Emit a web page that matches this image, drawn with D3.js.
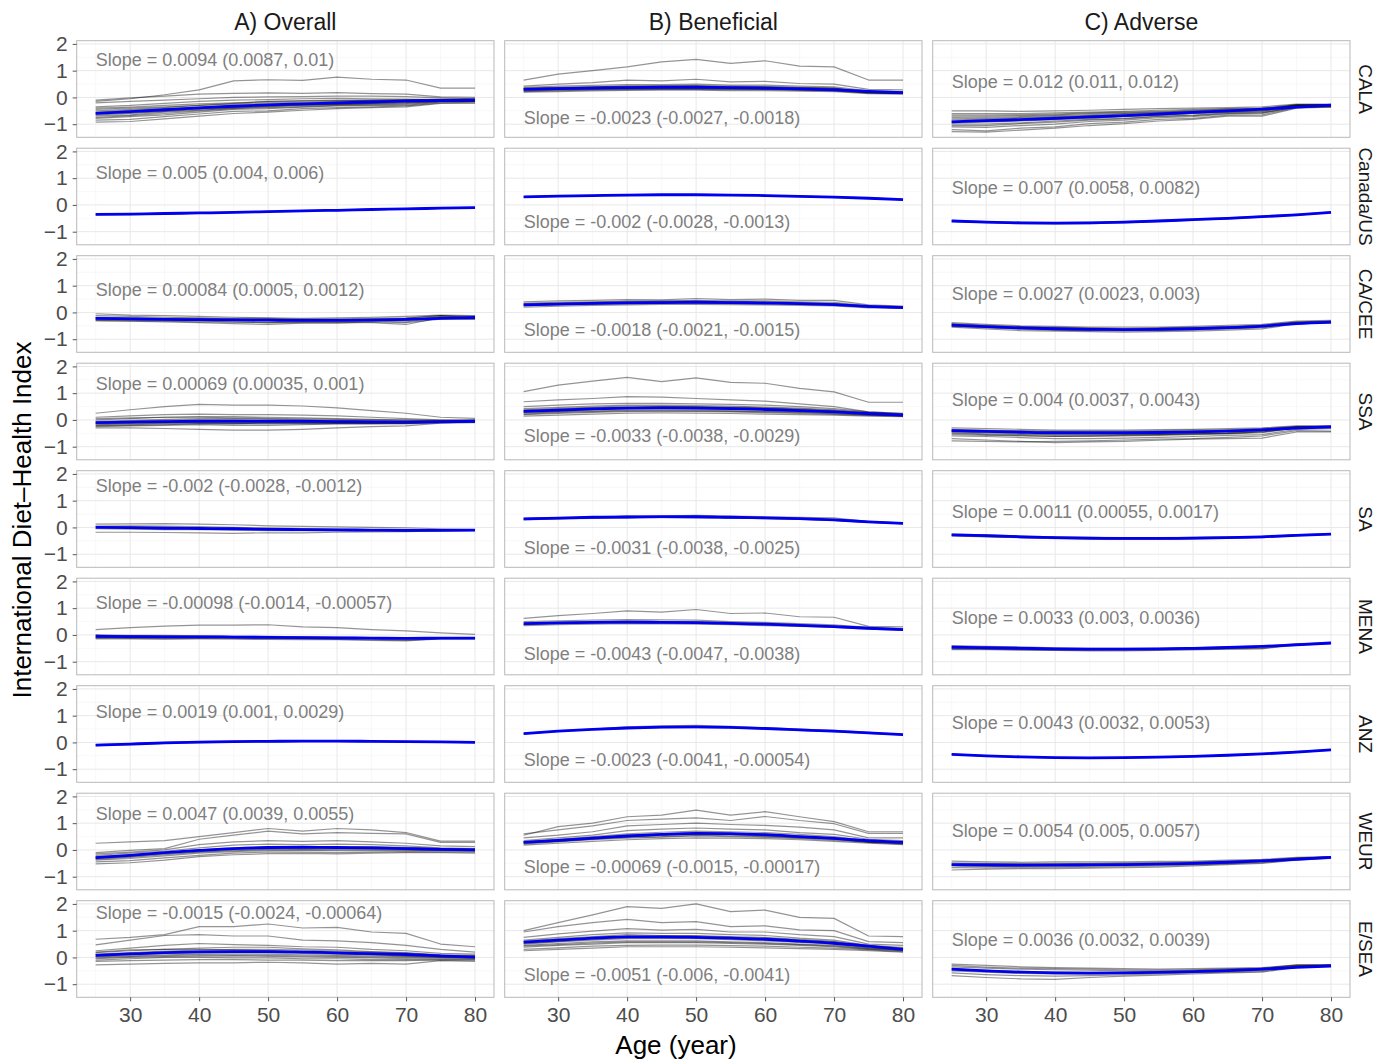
<!DOCTYPE html>
<html>
<head>
<meta charset="utf-8">
<script src="https://cdn.jsdelivr.net/npm/d3@7"></script>
<style>
  body { margin: 0; background: #fff; }
  text { font-family: "Liberation Sans", Arial, Helvetica, sans-serif; }
</style>
</head>
<body>
<svg id="chart" width="1387" height="1059"></svg>
<script>
// ---- data ---------------------------------------------------------------
const ages = [25, 30, 35, 40, 45, 50, 55, 60, 65, 70, 75, 80];
const regions = ["CALA", "Canada/US", "CA/CEE", "SSA", "SA", "MENA", "ANZ", "WEUR", "E/SEA"];
const components = ["A) Overall", "B) Beneficial", "C) Adverse"];

// Regional smoothed trend (blue), one row per region
const fitOverall = [
  [-0.60,-0.53,-0.46,-0.39,-0.33,-0.28,-0.24,-0.20,-0.17,-0.14,-0.12,-0.10],
  [-0.35,-0.34,-0.32,-0.30,-0.28,-0.25,-0.22,-0.20,-0.17,-0.15,-0.12,-0.10],
  [-0.22,-0.24,-0.26,-0.27,-0.28,-0.29,-0.30,-0.30,-0.29,-0.26,-0.22,-0.19],
  [-0.10,-0.08,-0.06,-0.05,-0.05,-0.05,-0.05,-0.06,-0.07,-0.08,-0.07,-0.05],
  [0.00,-0.01,-0.03,-0.04,-0.05,-0.07,-0.08,-0.09,-0.10,-0.11,-0.11,-0.10],
  [-0.05,-0.06,-0.07,-0.07,-0.08,-0.09,-0.10,-0.11,-0.12,-0.13,-0.12,-0.12],
  [-0.10,-0.06,-0.02,0.01,0.03,0.04,0.05,0.05,0.04,0.03,0.02,0.00],
  [-0.29,-0.20,-0.10,-0.02,0.05,0.09,0.10,0.09,0.08,0.05,0.02,0.00],
  [0.08,0.13,0.18,0.21,0.22,0.22,0.20,0.17,0.14,0.11,0.06,0.01]
];
const fitBeneficial = [
  [0.30,0.33,0.35,0.37,0.38,0.38,0.37,0.35,0.32,0.28,0.23,0.18],
  [0.30,0.33,0.35,0.37,0.38,0.38,0.37,0.35,0.32,0.29,0.25,0.20],
  [0.28,0.31,0.34,0.36,0.37,0.38,0.37,0.35,0.33,0.29,0.23,0.18],
  [0.32,0.37,0.41,0.44,0.45,0.44,0.42,0.39,0.35,0.30,0.24,0.18],
  [0.32,0.35,0.38,0.39,0.40,0.40,0.38,0.36,0.33,0.28,0.21,0.15],
  [0.42,0.45,0.47,0.48,0.47,0.46,0.43,0.40,0.36,0.31,0.25,0.20],
  [0.33,0.42,0.49,0.54,0.57,0.58,0.56,0.52,0.47,0.42,0.36,0.29],
  [0.28,0.36,0.44,0.52,0.58,0.62,0.61,0.57,0.50,0.43,0.35,0.28],
  [0.57,0.65,0.72,0.77,0.77,0.75,0.72,0.68,0.61,0.53,0.42,0.30]
];
const fitAdverse = [
  [-0.91,-0.87,-0.83,-0.78,-0.73,-0.68,-0.62,-0.56,-0.50,-0.44,-0.36,-0.29],
  [-0.60,-0.64,-0.67,-0.68,-0.67,-0.64,-0.60,-0.55,-0.50,-0.44,-0.37,-0.28],
  [-0.47,-0.53,-0.58,-0.61,-0.63,-0.64,-0.63,-0.61,-0.57,-0.51,-0.42,-0.36],
  [-0.40,-0.43,-0.46,-0.48,-0.48,-0.48,-0.47,-0.45,-0.42,-0.37,-0.31,-0.26],
  [-0.28,-0.31,-0.35,-0.38,-0.40,-0.41,-0.41,-0.40,-0.38,-0.35,-0.30,-0.25],
  [-0.46,-0.48,-0.50,-0.52,-0.53,-0.53,-0.52,-0.50,-0.47,-0.43,-0.37,-0.30],
  [-0.45,-0.50,-0.54,-0.57,-0.58,-0.57,-0.55,-0.52,-0.48,-0.43,-0.36,-0.28],
  [-0.55,-0.56,-0.57,-0.57,-0.56,-0.55,-0.53,-0.50,-0.46,-0.41,-0.35,-0.28],
  [-0.44,-0.50,-0.55,-0.58,-0.59,-0.58,-0.56,-0.53,-0.49,-0.44,-0.37,-0.32]
];

// Country-level trajectories (grey), grouped by region
const countriesOverall = [
  [ // CALA
    [-0.15,-0.05,0.10,0.28,0.62,0.66,0.64,0.76,0.68,0.65,0.35,0.35],
    [-0.10,-0.02,0.05,0.12,0.15,0.17,0.15,0.18,0.14,0.12,0.02,0.00],
    [-0.20,-0.15,-0.10,-0.05,0.00,0.02,0.03,0.05,0.05,0.03,-0.02,-0.05],
    [-0.35,-0.30,-0.22,-0.15,-0.10,-0.08,-0.05,-0.03,-0.05,-0.06,-0.08,-0.08],
    [-0.45,-0.40,-0.35,-0.30,-0.22,-0.15,-0.12,-0.10,-0.10,-0.10,-0.10,-0.10],
    [-0.55,-0.48,-0.42,-0.36,-0.30,-0.25,-0.22,-0.18,-0.16,-0.15,-0.12,-0.12],
    [-0.62,-0.58,-0.50,-0.42,-0.35,-0.32,-0.28,-0.25,-0.22,-0.18,-0.14,-0.12],
    [-0.70,-0.65,-0.55,-0.48,-0.40,-0.35,-0.30,-0.28,-0.25,-0.22,-0.15,-0.14],
    [-0.78,-0.72,-0.65,-0.55,-0.45,-0.42,-0.36,-0.32,-0.30,-0.30,-0.17,-0.16],
    [-0.85,-0.82,-0.72,-0.62,-0.52,-0.50,-0.42,-0.38,-0.35,-0.32,-0.20,-0.18],
    [-0.92,-0.90,-0.80,-0.70,-0.60,-0.55,-0.48,-0.42,-0.38,-0.35,-0.22,-0.22],
    [-0.50,-0.45,-0.38,-0.30,-0.25,-0.20,-0.18,-0.15,-0.12,-0.10,-0.06,-0.05],
    [-0.58,-0.52,-0.45,-0.38,-0.32,-0.28,-0.25,-0.22,-0.19,-0.16,-0.10,-0.09],
    [-0.66,-0.60,-0.52,-0.45,-0.38,-0.33,-0.28,-0.26,-0.22,-0.20,-0.13,-0.13],
    [-0.40,-0.36,-0.30,-0.24,-0.20,-0.16,-0.14,-0.12,-0.10,-0.09,-0.08,-0.07],
    [-0.75,-0.68,-0.60,-0.50,-0.42,-0.38,-0.34,-0.30,-0.28,-0.26,-0.16,-0.15]
  ],
  [ // Canada/US
    [-0.33,-0.33,-0.31,-0.29,-0.27,-0.24,-0.21,-0.19,-0.16,-0.14,-0.11,-0.09],
    [-0.37,-0.36,-0.34,-0.31,-0.29,-0.26,-0.23,-0.21,-0.18,-0.16,-0.13,-0.11]
  ],
  [ // CA/CEE
    [-0.05,-0.10,-0.12,-0.15,-0.18,-0.20,-0.22,-0.20,-0.18,-0.15,-0.10,-0.12],
    [-0.12,-0.15,-0.18,-0.20,-0.22,-0.22,-0.25,-0.24,-0.22,-0.20,-0.12,-0.15],
    [-0.20,-0.22,-0.25,-0.25,-0.28,-0.30,-0.30,-0.28,-0.28,-0.30,-0.15,-0.18],
    [-0.28,-0.30,-0.30,-0.32,-0.35,-0.38,-0.35,-0.35,-0.32,-0.35,-0.18,-0.20],
    [-0.32,-0.33,-0.35,-0.38,-0.42,-0.45,-0.40,-0.38,-0.38,-0.45,-0.20,-0.22],
    [-0.25,-0.25,-0.28,-0.30,-0.30,-0.32,-0.33,-0.32,-0.30,-0.28,-0.22,-0.25],
    [-0.18,-0.20,-0.22,-0.22,-0.25,-0.25,-0.28,-0.28,-0.25,-0.22,-0.12,-0.20],
    [-0.30,-0.32,-0.33,-0.35,-0.36,-0.38,-0.38,-0.40,-0.35,-0.38,-0.25,-0.25],
    [-0.22,-0.24,-0.26,-0.28,-0.29,-0.30,-0.31,-0.31,-0.30,-0.27,-0.20,-0.19]
  ],
  [ // SSA
    [0.25,0.38,0.50,0.58,0.55,0.55,0.52,0.45,0.35,0.25,0.10,0.06],
    [0.10,0.15,0.20,0.22,0.20,0.20,0.18,0.15,0.10,0.05,0.00,0.00],
    [0.00,0.05,0.10,0.12,0.12,0.10,0.08,0.05,0.02,0.00,-0.02,-0.02],
    [-0.05,-0.02,0.02,0.05,0.05,0.03,0.00,-0.02,-0.03,-0.05,-0.03,-0.03],
    [-0.12,-0.10,-0.08,-0.05,-0.05,-0.05,-0.06,-0.08,-0.08,-0.10,-0.06,-0.05],
    [-0.18,-0.15,-0.12,-0.10,-0.12,-0.12,-0.12,-0.12,-0.12,-0.13,-0.08,-0.06],
    [-0.25,-0.22,-0.20,-0.18,-0.20,-0.20,-0.18,-0.15,-0.15,-0.15,-0.10,-0.08],
    [-0.30,-0.30,-0.32,-0.35,-0.38,-0.38,-0.35,-0.30,-0.25,-0.22,-0.12,-0.10],
    [-0.20,-0.18,-0.15,-0.15,-0.15,-0.10,-0.12,-0.10,-0.12,-0.10,-0.08,-0.04],
    [-0.08,-0.05,-0.02,0.00,0.00,-0.02,-0.03,-0.05,-0.05,-0.06,-0.05,-0.04],
    [-0.15,-0.12,-0.10,-0.08,-0.08,-0.08,-0.09,-0.10,-0.10,-0.11,-0.07,-0.05],
    [0.05,0.08,0.10,0.10,0.08,0.06,0.04,0.02,0.00,-0.02,-0.03,-0.02],
    [-0.22,-0.20,-0.18,-0.14,-0.14,-0.15,-0.15,-0.14,-0.14,-0.12,-0.09,-0.06]
  ],
  [ // SA
    [0.12,0.13,0.14,0.12,0.10,0.06,0.04,0.02,0.00,-0.02,-0.05,-0.08],
    [-0.18,-0.18,-0.19,-0.20,-0.22,-0.20,-0.20,-0.18,-0.17,-0.16,-0.13,-0.12],
    [0.03,0.02,0.00,-0.02,-0.03,-0.05,-0.06,-0.08,-0.10,-0.12,-0.10,-0.09],
    [-0.05,-0.06,-0.08,-0.08,-0.10,-0.12,-0.12,-0.13,-0.14,-0.15,-0.12,-0.11],
    [0.05,0.06,0.05,0.03,0.00,-0.02,-0.04,-0.06,-0.08,-0.10,-0.09,-0.10]
  ],
  [ // MENA
    [0.20,0.27,0.33,0.37,0.37,0.38,0.30,0.27,0.20,0.15,0.08,0.02],
    [0.00,-0.02,-0.02,-0.03,-0.05,-0.05,-0.07,-0.08,-0.10,-0.10,-0.10,-0.10],
    [-0.08,-0.10,-0.10,-0.10,-0.10,-0.12,-0.13,-0.14,-0.15,-0.16,-0.13,-0.13],
    [-0.12,-0.13,-0.14,-0.13,-0.13,-0.14,-0.16,-0.17,-0.18,-0.20,-0.14,-0.14],
    [-0.15,-0.15,-0.16,-0.15,-0.16,-0.17,-0.18,-0.18,-0.20,-0.22,-0.15,-0.15],
    [-0.02,-0.03,-0.04,-0.05,-0.06,-0.08,-0.08,-0.10,-0.11,-0.12,-0.11,-0.11],
    [-0.10,-0.08,-0.08,-0.08,-0.09,-0.10,-0.11,-0.12,-0.13,-0.15,-0.12,-0.12]
  ],
  [ // ANZ
    [-0.08,-0.04,0.00,0.03,0.05,0.06,0.06,0.06,0.05,0.04,0.03,0.01],
    [-0.12,-0.08,-0.04,-0.01,0.01,0.02,0.04,0.04,0.03,0.02,0.01,-0.01]
  ],
  [ // WEUR
    [0.25,0.30,0.35,0.50,0.65,0.80,0.70,0.80,0.75,0.65,0.33,0.33],
    [-0.10,-0.02,0.05,0.40,0.55,0.70,0.60,0.65,0.62,0.60,0.28,0.28],
    [-0.15,-0.08,0.00,0.20,0.30,0.35,0.32,0.35,0.30,0.25,0.15,0.12],
    [-0.20,-0.12,-0.05,0.08,0.18,0.22,0.20,0.22,0.20,0.15,0.08,0.05],
    [-0.25,-0.18,-0.10,0.00,0.08,0.12,0.12,0.12,0.10,0.08,0.04,0.02],
    [-0.32,-0.25,-0.15,-0.06,0.00,0.03,0.05,0.04,0.03,0.02,0.00,-0.02],
    [-0.38,-0.32,-0.22,-0.12,-0.06,-0.03,-0.02,-0.03,-0.03,-0.03,-0.04,-0.05],
    [-0.45,-0.40,-0.30,-0.20,-0.12,-0.08,-0.08,-0.10,-0.08,-0.06,-0.07,-0.08],
    [-0.52,-0.48,-0.38,-0.25,-0.18,-0.14,-0.13,-0.15,-0.12,-0.10,-0.10,-0.12],
    [-0.30,-0.22,-0.12,-0.02,0.05,0.10,0.10,0.10,0.12,0.10,0.05,0.03],
    [-0.28,-0.20,-0.10,-0.02,0.04,0.08,0.08,0.08,0.07,0.05,0.02,0.01],
    [-0.35,-0.28,-0.18,-0.08,-0.03,0.00,0.01,0.00,0.00,-0.01,-0.02,-0.03]
  ],
  [ // E/SEA
    [0.68,0.75,0.85,1.15,1.15,1.25,1.10,1.12,0.95,0.90,0.50,0.40],
    [0.47,0.65,0.82,0.85,0.80,0.80,0.65,0.62,0.55,0.45,0.30,0.20],
    [0.25,0.35,0.45,0.52,0.48,0.45,0.40,0.38,0.30,0.25,0.15,0.12],
    [0.18,0.25,0.30,0.35,0.38,0.38,0.32,0.28,0.22,0.18,0.10,0.08],
    [0.10,0.15,0.20,0.22,0.25,0.25,0.22,0.20,0.15,0.12,0.05,0.04],
    [0.02,0.06,0.10,0.12,0.12,0.12,0.10,0.08,0.06,0.03,0.00,-0.02],
    [-0.05,0.00,0.03,0.05,0.05,0.04,0.02,0.00,-0.02,-0.05,-0.05,-0.05],
    [-0.15,-0.12,-0.10,-0.08,-0.08,-0.10,-0.10,-0.12,-0.12,-0.12,-0.08,-0.08],
    [-0.28,-0.25,-0.22,-0.20,-0.20,-0.18,-0.20,-0.25,-0.22,-0.25,-0.12,-0.15],
    [0.20,0.28,0.30,0.30,0.28,0.25,0.20,0.15,0.10,0.05,0.02,0.00],
    [-0.10,-0.05,0.00,0.00,-0.02,-0.02,-0.05,-0.05,-0.08,-0.08,-0.10,-0.10],
    [0.05,0.10,0.15,0.18,0.18,0.18,0.15,0.12,0.10,0.08,0.03,0.02],
    [0.12,0.18,0.24,0.27,0.30,0.30,0.27,0.24,0.20,0.16,0.08,0.05],
    [-0.02,0.03,0.07,0.09,0.08,0.08,0.06,0.04,0.02,-0.01,-0.02,-0.03]
  ]
];

const countriesBeneficial = [
  [ // CALA
    [0.65,0.87,1.00,1.14,1.33,1.42,1.27,1.37,1.17,1.14,0.65,0.65],
    [0.42,0.50,0.55,0.65,0.62,0.68,0.58,0.60,0.52,0.50,0.30,0.28],
    [0.38,0.42,0.45,0.48,0.48,0.50,0.46,0.46,0.42,0.40,0.25,0.22],
    [0.34,0.37,0.40,0.42,0.42,0.43,0.40,0.40,0.37,0.35,0.22,0.20],
    [0.30,0.33,0.35,0.37,0.38,0.38,0.36,0.35,0.33,0.31,0.20,0.18],
    [0.26,0.29,0.31,0.33,0.33,0.34,0.32,0.31,0.29,0.27,0.18,0.16],
    [0.22,0.25,0.27,0.29,0.30,0.30,0.28,0.28,0.26,0.24,0.16,0.14],
    [0.20,0.22,0.24,0.26,0.27,0.27,0.25,0.25,0.23,0.22,0.14,0.12],
    [0.32,0.35,0.38,0.40,0.40,0.40,0.38,0.37,0.35,0.33,0.19,0.17],
    [0.28,0.31,0.33,0.35,0.36,0.36,0.34,0.33,0.31,0.29,0.19,0.16],
    [0.35,0.38,0.40,0.42,0.43,0.44,0.42,0.41,0.38,0.36,0.21,0.19],
    [0.24,0.27,0.29,0.31,0.32,0.32,0.30,0.30,0.28,0.26,0.17,0.15]
  ],
  [ // Canada/US
    [0.31,0.34,0.36,0.38,0.39,0.39,0.38,0.36,0.33,0.30,0.26,0.21],
    [0.29,0.32,0.34,0.36,0.37,0.37,0.36,0.34,0.31,0.28,0.24,0.19]
  ],
  [ // CA/CEE
    [0.40,0.43,0.45,0.48,0.47,0.52,0.48,0.50,0.45,0.45,0.28,0.24],
    [0.35,0.38,0.40,0.42,0.43,0.45,0.43,0.43,0.40,0.38,0.25,0.22],
    [0.30,0.33,0.36,0.38,0.39,0.40,0.39,0.38,0.35,0.33,0.23,0.20],
    [0.25,0.28,0.30,0.33,0.34,0.35,0.34,0.33,0.30,0.28,0.20,0.17],
    [0.20,0.23,0.26,0.28,0.30,0.30,0.29,0.28,0.26,0.24,0.17,0.15],
    [0.27,0.30,0.33,0.35,0.36,0.37,0.36,0.34,0.32,0.30,0.20,0.18],
    [0.32,0.35,0.38,0.40,0.41,0.42,0.40,0.40,0.36,0.34,0.22,0.20]
  ],
  [ // SSA
    [1.06,1.30,1.45,1.59,1.43,1.57,1.40,1.37,1.18,1.05,0.66,0.66],
    [0.68,0.75,0.80,0.87,0.85,0.80,0.75,0.70,0.60,0.50,0.30,0.25],
    [0.50,0.55,0.60,0.62,0.62,0.60,0.58,0.55,0.50,0.42,0.30,0.24],
    [0.42,0.47,0.52,0.55,0.55,0.54,0.52,0.48,0.44,0.38,0.27,0.22],
    [0.36,0.40,0.45,0.48,0.49,0.48,0.46,0.43,0.39,0.33,0.25,0.20],
    [0.30,0.35,0.39,0.42,0.43,0.42,0.40,0.37,0.33,0.29,0.22,0.18],
    [0.25,0.30,0.34,0.37,0.38,0.37,0.35,0.32,0.29,0.25,0.20,0.16],
    [0.20,0.24,0.28,0.31,0.32,0.31,0.30,0.27,0.24,0.21,0.17,0.14],
    [0.14,0.18,0.22,0.25,0.26,0.25,0.24,0.22,0.20,0.18,0.14,0.12],
    [0.28,0.32,0.38,0.45,0.50,0.48,0.45,0.42,0.38,0.32,0.22,0.17],
    [0.33,0.38,0.42,0.45,0.46,0.45,0.43,0.40,0.36,0.31,0.23,0.19],
    [0.22,0.27,0.31,0.34,0.35,0.34,0.32,0.30,0.27,0.23,0.18,0.15],
    [0.38,0.43,0.48,0.52,0.52,0.50,0.49,0.45,0.41,0.36,0.26,0.21]
  ],
  [ // SA
    [0.34,0.37,0.40,0.43,0.42,0.45,0.42,0.40,0.38,0.36,0.22,0.17],
    [0.30,0.33,0.36,0.37,0.38,0.38,0.36,0.34,0.31,0.26,0.20,0.14],
    [0.28,0.32,0.34,0.36,0.37,0.36,0.35,0.33,0.30,0.26,0.19,0.14],
    [0.33,0.36,0.38,0.40,0.40,0.41,0.39,0.37,0.34,0.30,0.22,0.16]
  ],
  [ // MENA
    [0.62,0.72,0.80,0.90,0.85,0.95,0.80,0.82,0.68,0.66,0.32,0.30],
    [0.50,0.53,0.55,0.57,0.56,0.55,0.50,0.47,0.42,0.38,0.28,0.24],
    [0.45,0.48,0.50,0.52,0.50,0.50,0.46,0.43,0.39,0.34,0.26,0.21],
    [0.38,0.42,0.44,0.45,0.45,0.44,0.41,0.38,0.34,0.30,0.24,0.19],
    [0.35,0.38,0.40,0.42,0.41,0.40,0.38,0.35,0.32,0.28,0.22,0.18],
    [0.40,0.44,0.46,0.50,0.48,0.47,0.42,0.41,0.36,0.32,0.25,0.20]
  ],
  [ // ANZ
    [0.34,0.43,0.50,0.58,0.62,0.64,0.60,0.55,0.50,0.45,0.38,0.30],
    [0.32,0.41,0.48,0.52,0.55,0.56,0.54,0.50,0.45,0.40,0.34,0.28]
  ],
  [ // WEUR
    [0.55,0.87,1.00,1.24,1.30,1.49,1.30,1.43,1.24,1.06,0.68,0.68],
    [0.60,0.75,0.90,1.10,1.15,1.20,1.10,1.25,1.10,0.98,0.62,0.62],
    [0.45,0.55,0.68,0.90,0.95,1.00,0.95,0.92,0.85,0.75,0.45,0.45],
    [0.35,0.45,0.55,0.72,0.78,0.82,0.78,0.75,0.65,0.58,0.40,0.35],
    [0.30,0.40,0.50,0.60,0.66,0.70,0.68,0.65,0.58,0.50,0.35,0.30],
    [0.25,0.33,0.42,0.50,0.55,0.58,0.57,0.52,0.46,0.40,0.30,0.25],
    [0.22,0.30,0.38,0.44,0.48,0.52,0.50,0.47,0.42,0.36,0.28,0.22],
    [0.18,0.25,0.32,0.38,0.42,0.45,0.44,0.42,0.38,0.32,0.25,0.20],
    [0.30,0.38,0.45,0.55,0.60,0.64,0.62,0.60,0.52,0.45,0.32,0.27],
    [0.26,0.32,0.40,0.48,0.50,0.55,0.53,0.50,0.45,0.40,0.28,0.24],
    [0.28,0.35,0.42,0.50,0.56,0.60,0.58,0.55,0.48,0.42,0.30,0.26]
  ],
  [ // E/SEA
    [1.00,1.30,1.59,1.90,1.83,2.00,1.71,1.77,1.50,1.46,0.80,0.78],
    [0.95,1.15,1.30,1.42,1.30,1.34,1.15,1.18,1.03,1.00,0.59,0.55],
    [0.75,0.88,0.98,1.08,1.02,1.05,0.95,0.95,0.85,0.78,0.50,0.45],
    [0.65,0.75,0.85,0.92,0.90,0.90,0.85,0.82,0.72,0.65,0.45,0.38],
    [0.55,0.65,0.72,0.80,0.80,0.80,0.75,0.72,0.65,0.58,0.40,0.34],
    [0.50,0.58,0.65,0.70,0.70,0.70,0.66,0.62,0.56,0.50,0.36,0.30],
    [0.45,0.52,0.58,0.62,0.62,0.62,0.58,0.55,0.50,0.45,0.34,0.28],
    [0.38,0.45,0.50,0.55,0.55,0.55,0.52,0.50,0.45,0.40,0.30,0.25],
    [0.30,0.36,0.42,0.45,0.46,0.46,0.44,0.42,0.38,0.35,0.28,0.22],
    [0.25,0.30,0.35,0.40,0.40,0.40,0.38,0.36,0.33,0.30,0.25,0.20],
    [0.60,0.70,0.78,0.85,0.82,0.82,0.78,0.75,0.68,0.60,0.42,0.35],
    [0.52,0.60,0.68,0.74,0.74,0.74,0.70,0.66,0.60,0.52,0.38,0.30],
    [0.42,0.48,0.54,0.58,0.58,0.58,0.55,0.52,0.48,0.42,0.32,0.26]
  ]
];

const countriesAdverse = [
  [ // CALA
    [-0.50,-0.50,-0.52,-0.50,-0.48,-0.45,-0.42,-0.40,-0.38,-0.35,-0.25,-0.25],
    [-0.60,-0.60,-0.60,-0.58,-0.55,-0.52,-0.48,-0.45,-0.42,-0.40,-0.27,-0.27],
    [-0.70,-0.70,-0.68,-0.65,-0.60,-0.58,-0.55,-0.50,-0.46,-0.44,-0.29,-0.28],
    [-0.80,-0.78,-0.75,-0.72,-0.68,-0.62,-0.60,-0.55,-0.50,-0.48,-0.30,-0.30],
    [-0.90,-0.90,-0.85,-0.80,-0.75,-0.70,-0.65,-0.60,-0.55,-0.52,-0.32,-0.31],
    [-1.00,-1.00,-0.95,-0.88,-0.82,-0.78,-0.70,-0.66,-0.58,-0.56,-0.34,-0.32],
    [-1.10,-1.12,-1.05,-1.00,-0.90,-0.85,-0.76,-0.72,-0.62,-0.60,-0.36,-0.34],
    [-1.20,-1.25,-1.15,-1.10,-0.98,-0.92,-0.82,-0.78,-0.66,-0.65,-0.38,-0.35],
    [-1.28,-1.30,-1.22,-1.15,-1.05,-0.98,-0.88,-0.82,-0.70,-0.70,-0.40,-0.36],
    [-0.85,-0.82,-0.78,-0.74,-0.70,-0.66,-0.60,-0.56,-0.50,-0.46,-0.31,-0.30],
    [-1.05,-1.05,-0.98,-0.92,-0.85,-0.80,-0.72,-0.68,-0.60,-0.58,-0.35,-0.33],
    [-0.95,-0.92,-0.88,-0.83,-0.78,-0.72,-0.66,-0.60,-0.54,-0.50,-0.33,-0.31],
    [-0.75,-0.74,-0.72,-0.68,-0.64,-0.60,-0.57,-0.52,-0.48,-0.46,-0.30,-0.29],
    [-0.65,-0.65,-0.64,-0.62,-0.58,-0.55,-0.52,-0.48,-0.44,-0.42,-0.28,-0.27]
  ],
  [ // Canada/US
    [-0.58,-0.62,-0.65,-0.66,-0.65,-0.62,-0.58,-0.53,-0.48,-0.42,-0.35,-0.27],
    [-0.62,-0.66,-0.70,-0.71,-0.70,-0.67,-0.62,-0.57,-0.52,-0.46,-0.38,-0.29]
  ],
  [ // CA/CEE
    [-0.38,-0.45,-0.50,-0.52,-0.55,-0.55,-0.55,-0.52,-0.48,-0.45,-0.32,-0.30],
    [-0.42,-0.48,-0.53,-0.56,-0.58,-0.60,-0.58,-0.56,-0.52,-0.48,-0.35,-0.32],
    [-0.47,-0.53,-0.58,-0.62,-0.63,-0.65,-0.63,-0.60,-0.58,-0.52,-0.38,-0.35],
    [-0.52,-0.58,-0.63,-0.66,-0.68,-0.70,-0.68,-0.65,-0.62,-0.58,-0.40,-0.38],
    [-0.55,-0.62,-0.68,-0.70,-0.72,-0.74,-0.72,-0.70,-0.66,-0.62,-0.42,-0.40],
    [-0.45,-0.50,-0.55,-0.58,-0.60,-0.62,-0.60,-0.58,-0.55,-0.50,-0.36,-0.34],
    [-0.50,-0.55,-0.60,-0.64,-0.66,-0.66,-0.65,-0.62,-0.60,-0.55,-0.38,-0.37]
  ],
  [ // SSA
    [-0.30,-0.32,-0.35,-0.38,-0.38,-0.38,-0.36,-0.35,-0.32,-0.30,-0.22,-0.22],
    [-0.35,-0.38,-0.40,-0.42,-0.42,-0.42,-0.40,-0.38,-0.36,-0.32,-0.24,-0.23],
    [-0.40,-0.43,-0.46,-0.48,-0.48,-0.48,-0.46,-0.44,-0.42,-0.36,-0.26,-0.25],
    [-0.45,-0.48,-0.52,-0.55,-0.55,-0.54,-0.52,-0.50,-0.48,-0.42,-0.28,-0.27],
    [-0.50,-0.55,-0.58,-0.62,-0.62,-0.60,-0.58,-0.55,-0.52,-0.48,-0.30,-0.30],
    [-0.60,-0.62,-0.66,-0.70,-0.70,-0.68,-0.65,-0.62,-0.58,-0.55,-0.35,-0.33],
    [-0.70,-0.75,-0.80,-0.85,-0.82,-0.80,-0.76,-0.72,-0.70,-0.68,-0.45,-0.45],
    [-0.78,-0.80,-0.82,-0.80,-0.78,-0.75,-0.72,-0.70,-0.65,-0.60,-0.40,-0.42],
    [-0.38,-0.40,-0.43,-0.45,-0.46,-0.46,-0.44,-0.42,-0.40,-0.35,-0.26,-0.24],
    [-0.55,-0.58,-0.60,-0.62,-0.60,-0.58,-0.55,-0.52,-0.50,-0.45,-0.30,-0.28],
    [-0.42,-0.45,-0.48,-0.50,-0.50,-0.50,-0.48,-0.46,-0.44,-0.38,-0.27,-0.26],
    [-0.48,-0.52,-0.55,-0.58,-0.58,-0.56,-0.55,-0.52,-0.50,-0.45,-0.29,-0.28]
  ],
  [ // SA
    [-0.25,-0.28,-0.32,-0.35,-0.37,-0.38,-0.38,-0.37,-0.35,-0.33,-0.27,-0.24],
    [-0.30,-0.34,-0.38,-0.42,-0.44,-0.45,-0.45,-0.43,-0.41,-0.38,-0.31,-0.26],
    [-0.32,-0.35,-0.38,-0.40,-0.43,-0.43,-0.43,-0.42,-0.40,-0.36,-0.28,-0.26],
    [-0.27,-0.30,-0.33,-0.37,-0.38,-0.40,-0.40,-0.38,-0.37,-0.34,-0.28,-0.25]
  ],
  [ // MENA
    [-0.40,-0.43,-0.45,-0.48,-0.50,-0.50,-0.50,-0.48,-0.45,-0.42,-0.32,-0.30],
    [-0.44,-0.47,-0.49,-0.51,-0.52,-0.52,-0.51,-0.49,-0.46,-0.44,-0.34,-0.30],
    [-0.48,-0.50,-0.52,-0.54,-0.55,-0.55,-0.54,-0.52,-0.50,-0.48,-0.35,-0.31],
    [-0.52,-0.53,-0.55,-0.57,-0.58,-0.57,-0.56,-0.54,-0.52,-0.50,-0.36,-0.32],
    [-0.55,-0.55,-0.57,-0.58,-0.60,-0.60,-0.58,-0.56,-0.53,-0.52,-0.38,-0.33]
  ],
  [ // ANZ
    [-0.44,-0.49,-0.53,-0.56,-0.57,-0.56,-0.54,-0.51,-0.47,-0.42,-0.33,-0.27],
    [-0.46,-0.51,-0.55,-0.58,-0.59,-0.58,-0.56,-0.53,-0.49,-0.44,-0.37,-0.29]
  ],
  [ // WEUR
    [-0.42,-0.45,-0.46,-0.45,-0.45,-0.45,-0.43,-0.42,-0.38,-0.35,-0.28,-0.25],
    [-0.48,-0.50,-0.50,-0.50,-0.50,-0.48,-0.47,-0.45,-0.42,-0.38,-0.30,-0.26],
    [-0.55,-0.56,-0.56,-0.56,-0.55,-0.54,-0.52,-0.50,-0.46,-0.42,-0.32,-0.27],
    [-0.60,-0.62,-0.62,-0.60,-0.60,-0.58,-0.56,-0.54,-0.50,-0.45,-0.34,-0.28],
    [-0.66,-0.67,-0.66,-0.65,-0.64,-0.62,-0.60,-0.57,-0.52,-0.48,-0.36,-0.30],
    [-0.75,-0.72,-0.70,-0.70,-0.68,-0.66,-0.64,-0.60,-0.55,-0.50,-0.38,-0.32],
    [-0.52,-0.53,-0.54,-0.53,-0.52,-0.51,-0.50,-0.48,-0.45,-0.40,-0.31,-0.27],
    [-0.58,-0.60,-0.60,-0.59,-0.58,-0.56,-0.54,-0.52,-0.48,-0.44,-0.33,-0.28]
  ],
  [ // E/SEA
    [-0.25,-0.30,-0.35,-0.38,-0.40,-0.42,-0.44,-0.42,-0.40,-0.38,-0.28,-0.28],
    [-0.35,-0.40,-0.44,-0.46,-0.48,-0.50,-0.50,-0.48,-0.45,-0.42,-0.30,-0.29],
    [-0.42,-0.48,-0.52,-0.55,-0.56,-0.56,-0.54,-0.52,-0.48,-0.45,-0.32,-0.30],
    [-0.50,-0.55,-0.60,-0.62,-0.62,-0.60,-0.58,-0.55,-0.52,-0.48,-0.34,-0.31],
    [-0.58,-0.64,-0.68,-0.70,-0.68,-0.65,-0.62,-0.58,-0.55,-0.52,-0.36,-0.32],
    [-0.68,-0.75,-0.80,-0.82,-0.75,-0.70,-0.66,-0.62,-0.58,-0.55,-0.37,-0.33],
    [-0.46,-0.50,-0.55,-0.58,-0.58,-0.57,-0.55,-0.52,-0.50,-0.47,-0.33,-0.30],
    [-0.30,-0.36,-0.40,-0.42,-0.44,-0.46,-0.47,-0.46,-0.43,-0.40,-0.29,-0.28]
  ]
];

// Slope annotations (estimate and 95% interval) per region
const slopeOverall = [
  "Slope = 0.0094 (0.0087, 0.01)",
  "Slope = 0.005 (0.004, 0.006)",
  "Slope = 0.00084 (0.0005, 0.0012)",
  "Slope = 0.00069 (0.00035, 0.001)",
  "Slope = -0.002 (-0.0028, -0.0012)",
  "Slope = -0.00098 (-0.0014, -0.00057)",
  "Slope = 0.0019 (0.001, 0.0029)",
  "Slope = 0.0047 (0.0039, 0.0055)",
  "Slope = -0.0015 (-0.0024, -0.00064)"
];
const slopeBeneficial = [
  "Slope = -0.0023 (-0.0027, -0.0018)",
  "Slope = -0.002 (-0.0028, -0.0013)",
  "Slope = -0.0018 (-0.0021, -0.0015)",
  "Slope = -0.0033 (-0.0038, -0.0029)",
  "Slope = -0.0031 (-0.0038, -0.0025)",
  "Slope = -0.0043 (-0.0047, -0.0038)",
  "Slope = -0.0023 (-0.0041, -0.00054)",
  "Slope = -0.00069 (-0.0015, -0.00017)",
  "Slope = -0.0051 (-0.006, -0.0041)"
];
const slopeAdverse = [
  "Slope = 0.012 (0.011, 0.012)",
  "Slope = 0.007 (0.0058, 0.0082)",
  "Slope = 0.0027 (0.0023, 0.003)",
  "Slope = 0.004 (0.0037, 0.0043)",
  "Slope = 0.0011 (0.00055, 0.0017)",
  "Slope = 0.0033 (0.003, 0.0036)",
  "Slope = 0.0043 (0.0032, 0.0053)",
  "Slope = 0.0054 (0.005, 0.0057)",
  "Slope = 0.0036 (0.0032, 0.0039)"
];
// Vertical anchor of each annotation, in index units
const labelAtOverall = [1.41, 1.19, 0.85, 1.37, 1.55, 1.19, 1.15, 1.37, 1.66];
const labelAtBeneficial = [-0.75, -0.64, -0.64, -0.60, -0.75, -0.72, -0.64, -0.64, -0.64];
const labelAtAdverse = [0.59, 0.66, 0.70, 0.74, 0.59, 0.63, 0.74, 0.70, 0.66];

const xTicks = [30, 40, 50, 60, 70, 80];
const xMinor = [25, 35, 45, 55, 65, 75];
const yTicks = [-1, 0, 1, 2];
const yMinor = [-0.5, 0.5, 1.5];

// ---- layout -------------------------------------------------------------
const fits = [fitOverall, fitBeneficial, fitAdverse];
const countries = [countriesOverall, countriesBeneficial, countriesAdverse];
const slopes = [slopeOverall, slopeBeneficial, slopeAdverse];
const labelAt = [labelAtOverall, labelAtBeneficial, labelAtAdverse];

const left0 = 76.7, colStep = 428, pw = 417.3;
const top0 = 40.7, rowStep = 107.5, ph = 96.6;

const x = d3.scaleLinear().domain([22.25, 82.75]).range([0, pw]);
const y = d3.scaleLinear().domain([-1.49, 2.12]).range([ph, 0]);

const svg = d3.select("#chart");
svg.append("rect").attr("width", 1387).attr("height", 1059).attr("fill", "#fff");

const greyLine = d3.line().x((d, i) => x(ages[i])).y(d => y(d));
const fitLine = d3.line().x((d, i) => x(ages[i])).y(d => y(d)).curve(d3.curveMonotoneX);
const tickFmt = d3.format("d");

components.forEach((comp, c) => {
  regions.forEach((reg, r) => {
    const g = svg.append("g")
      .attr("transform", `translate(${left0 + c * colStep},${top0 + r * rowStep})`);

    g.append("rect").attr("width", pw).attr("height", ph).attr("fill", "#fff");

    // minor then major grid
    g.selectAll(".vminor").data(xMinor).join("line")
      .attr("x1", d => x(d)).attr("x2", d => x(d)).attr("y1", 0).attr("y2", ph)
      .attr("stroke", "#f3f3f3").attr("stroke-width", 0.6);
    g.selectAll(".hminor").data(yMinor).join("line")
      .attr("x1", 0).attr("x2", pw).attr("y1", d => y(d)).attr("y2", d => y(d))
      .attr("stroke", "#f3f3f3").attr("stroke-width", 0.6);
    g.selectAll(".vmajor").data(xTicks).join("line")
      .attr("x1", d => x(d)).attr("x2", d => x(d)).attr("y1", 0).attr("y2", ph)
      .attr("stroke", "#e8e8e8").attr("stroke-width", 1);
    g.selectAll(".hmajor").data(yTicks).join("line")
      .attr("x1", 0).attr("x2", pw).attr("y1", d => y(d)).attr("y2", d => y(d))
      .attr("stroke", "#e8e8e8").attr("stroke-width", 1);

    // country trajectories
    g.append("g").selectAll("path").data(countries[c][r]).join("path")
      .attr("d", greyLine)
      .attr("fill", "none")
      .attr("stroke", "#000")
      .attr("stroke-opacity", 0.42)
      .attr("stroke-width", 1.2)
      .attr("stroke-linejoin", "round");

    // regional trend
    g.append("path").datum(fits[c][r])
      .attr("d", fitLine)
      .attr("fill", "none")
      .attr("stroke", "#0000ee")
      .attr("stroke-width", 2.8);

    // slope annotation
    g.append("text")
      .attr("x", x(25)).attr("y", y(labelAt[c][r]))
      .attr("dy", "0.35em")
      .attr("font-size", 18)
      .attr("fill", "#7f7f7f")
      .text(slopes[c][r]);

    // panel border
    g.append("rect").attr("width", pw).attr("height", ph)
      .attr("fill", "none").attr("stroke", "#b8b8b8").attr("stroke-width", 1);

    // axes on the outer panels
    if (c === 0) {
      const ax = g.append("g")
        .call(d3.axisLeft(y).tickValues(yTicks).tickFormat(tickFmt).tickSize(4).tickPadding(5));
      ax.select(".domain").remove();
      ax.selectAll("line").attr("stroke", "#555");
      ax.selectAll("text").attr("font-size", 21).attr("fill", "#4d4d4d")
        .style("font-family", "'Liberation Sans', Arial, sans-serif");
    }
    if (r === regions.length - 1) {
      const ax = g.append("g").attr("transform", `translate(0,${ph})`)
        .call(d3.axisBottom(x).tickValues(xTicks).tickFormat(tickFmt).tickSize(4).tickPadding(6));
      ax.select(".domain").remove();
      ax.selectAll("line").attr("stroke", "#555");
      ax.selectAll("text").attr("font-size", 21).attr("fill", "#4d4d4d")
        .style("font-family", "'Liberation Sans', Arial, sans-serif");
    }
    // row strip on the right
    if (c === components.length - 1) {
      g.append("text")
        .attr("transform", `translate(${pw + 16},${ph / 2}) rotate(90)`)
        .attr("text-anchor", "middle")
        .attr("dy", "0.35em")
        .attr("font-size", 19)
        .attr("fill", "#1a1a1a")
        .text(reg);
    }
    // column strip on top
    if (r === 0) {
      g.append("text")
        .attr("x", pw / 2).attr("y", -19)
        .attr("text-anchor", "middle")
        .attr("dy", "0.35em")
        .attr("font-size", 23)
        .attr("fill", "#1a1a1a")
        .text(comp);
    }
  });
});

// axis titles
svg.append("text")
  .attr("x", 676).attr("y", 1045)
  .attr("text-anchor", "middle").attr("dy", "0.35em")
  .attr("font-size", 26).attr("fill", "#000")
  .text("Age (year)");
svg.append("text")
  .attr("transform", "translate(22,520) rotate(-90)")
  .attr("text-anchor", "middle").attr("dy", "0.35em")
  .attr("font-size", 26).attr("fill", "#000")
  .text("International Diet–Health Index");
</script>
</body>
</html>
